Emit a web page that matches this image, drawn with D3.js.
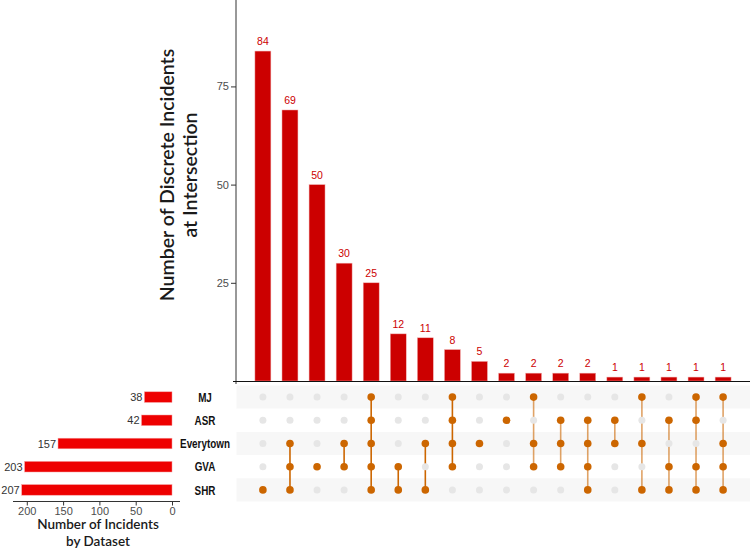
<!DOCTYPE html>
<html>
<head>
<meta charset="utf-8">
<script src="https://cdn.jsdelivr.net/npm/d3@7"></script>
<style>
  body { margin: 0; background: #fff; }
  svg { display: block; }
  .tick text { fill: #4d4d4d; font-family: "Liberation Sans", Arial, sans-serif; font-size: 11px; }
  .title { font-family: Lato, "Open Sans", sans-serif; font-weight: 600; fill: #1a1a1a; }
  .setname { font-family: "Liberation Sans", Arial, sans-serif; font-weight: bold; font-size: 13px; fill: #111; }
</style>
</head>
<body>
<div id="chart-area"></div>
<script>
// set names, top to bottom in the matrix
var sets = ["MJ", "ASR", "Everytown", "GVA", "SHR"];
var setSizes = [38, 42, 157, 203, 207];

// intersection sizes, sorted by frequency
var interSizes = [84, 69, 50, 30, 25, 12, 11, 8, 5, 2, 2, 2, 2, 1, 1, 1, 1, 1];

// which sets are in each intersection
var interMembers = [
    ["SHR"],
    ["Everytown", "GVA", "SHR"],
    ["GVA"],
    ["Everytown", "GVA"],
    ["MJ", "ASR", "Everytown", "GVA", "SHR"],
    ["GVA", "SHR"],
    ["Everytown", "SHR"],
    ["MJ", "ASR", "Everytown", "GVA"],
    ["Everytown"],
    ["ASR"],
    ["MJ", "Everytown", "GVA"],
    ["ASR", "Everytown", "GVA"],
    ["ASR", "Everytown", "GVA", "SHR"],
    ["ASR", "Everytown"],
    ["MJ", "Everytown", "SHR"],
    ["ASR", "GVA", "SHR"],
    ["MJ", "ASR", "GVA", "SHR"],
    ["MJ", "Everytown", "GVA", "SHR"]
];

var mainTicks = [25, 50, 75];
var setTicks = [0, 50, 100, 150, 200];

var width = 750, height = 549;

var svg = d3.select("#chart-area")
    .append("svg")
    .attr("width", width)
    .attr("height", height);

var barRed = "#cc0000",
    dotOn = "#cc6600",
    dotOff = "#e6e6e6";

// shared x for intersections
var x = d3.scaleBand()
    .domain(d3.range(interSizes.length))
    .range([249.5, 736.5])
    .paddingInner(0.41)
    .paddingOuter(0.2);

// top bar chart
var y = d3.scaleLinear()
    .domain([0, 97])
    .range([381, 0]);

svg.selectAll(".ibar")
    .data(interSizes)
    .enter().append("rect")
    .attr("class", "ibar")
    .attr("x", function(d, i) { return x(i); })
    .attr("y", function(d) { return y(d); })
    .attr("width", x.bandwidth())
    .attr("height", function(d) { return y(0) - y(d); })
    .attr("fill", barRed)
    .attr("stroke", "#f2b3b3")
    .attr("stroke-width", 0.5);

svg.selectAll(".ilabel")
    .data(interSizes)
    .enter().append("text")
    .attr("class", "ilabel")
    .attr("x", function(d, i) { return x(i) + x.bandwidth() / 2; })
    .attr("y", function(d) { return y(d) - 6; })
    .attr("text-anchor", "middle")
    .attr("fill", barRed)
    .style("font-family", "Liberation Sans, Arial, sans-serif")
    .style("font-size", "10.5px")
    .text(function(d) { return d; });

var yAxis = svg.append("g")
    .attr("transform", "translate(236,0)")
    .call(d3.axisLeft(y).tickValues(mainTicks).tickSize(5).tickPadding(2));
yAxis.select(".domain").remove();
yAxis.selectAll(".tick line").attr("stroke", "#333");

svg.append("line")
    .attr("x1", 236).attr("x2", 236)
    .attr("y1", 0).attr("y2", y(0) + 3)
    .attr("stroke", "#333").attr("stroke-width", 1);

svg.append("line")
    .attr("x1", 233).attr("x2", width)
    .attr("y1", y(0) + 0.5).attr("y2", y(0) + 0.5)
    .attr("stroke", "#111").attr("stroke-width", 1.1);

var yTitle = svg.append("text")
    .attr("class", "title")
    .attr("transform", "translate(174,175) rotate(-90)")
    .attr("text-anchor", "middle")
    .style("font-size", "19.5px");
yTitle.append("tspan").attr("x", 0).attr("dy", 0).text("Number of Discrete Incidents");
yTitle.append("tspan").attr("x", 0).attr("dy", 23).text("at Intersection");

// matrix rows
var row = d3.scaleBand()
    .domain(sets)
    .range([385.5, 501.5]);

svg.selectAll(".stripe")
    .data(sets)
    .enter().append("rect")
    .attr("class", "stripe")
    .attr("x", 236.5)
    .attr("y", function(d) { return row(d); })
    .attr("width", width - 236.5)
    .attr("height", row.bandwidth())
    .attr("fill", function(d, i) { return i % 2 === 0 ? "#f7f7f7" : "#ffffff"; });

var cy = function(s) { return row(s) + row.bandwidth() / 2; };

// connecting lines
interMembers.forEach(function(m, i) {
    if (m.length < 2) return;
    var ys = m.map(cy);
    svg.append("line")
        .attr("x1", x(i) + x.bandwidth() / 2)
        .attr("x2", x(i) + x.bandwidth() / 2)
        .attr("y1", d3.min(ys))
        .attr("y2", d3.max(ys))
        .attr("stroke", dotOn)
        .attr("stroke-width", 1.6)
        .attr("stroke-opacity", i < 10 ? 1 : 0.6);
});

// dots
var cells = [];
interMembers.forEach(function(m, i) {
    sets.forEach(function(s) {
        cells.push({ i: i, s: s, on: m.indexOf(s) >= 0 });
    });
});

svg.selectAll(".dot")
    .data(cells)
    .enter().append("circle")
    .attr("class", "dot")
    .attr("cx", function(d) { return x(d.i) + x.bandwidth() / 2; })
    .attr("cy", function(d) { return cy(d.s); })
    .attr("r", function(d) { return d.on ? 3.8 : 3.5; })
    .attr("fill", function(d) { return d.on ? dotOn : dotOff; });

// set size bars on the left
var sx = d3.scaleLinear()
    .domain([-11, 219])
    .range([180, 13]);

svg.selectAll(".sbar")
    .data(setSizes)
    .enter().append("rect")
    .attr("class", "sbar")
    .attr("x", function(d) { return sx(d); })
    .attr("y", function(d, i) { return cy(sets[i]) - 5.3; })
    .attr("width", function(d) { return sx(0) - sx(d); })
    .attr("height", 10.6)
    .attr("fill", "#ee0000")
    .attr("stroke", "#f5a0a0")
    .attr("stroke-width", 0.5);

svg.selectAll(".slabel")
    .data(setSizes)
    .enter().append("text")
    .attr("class", "slabel")
    .attr("x", function(d) { return sx(d) - 2; })
    .attr("y", function(d, i) { return cy(sets[i]) + 4; })
    .attr("text-anchor", "end")
    .attr("fill", "#333")
    .style("font-family", "Liberation Sans, Arial, sans-serif")
    .style("font-size", "11px")
    .text(function(d) { return d; });

// narrow bold set names, squeezed horizontally
svg.selectAll(".setname")
    .data(sets)
    .enter().append("text")
    .attr("class", "setname")
    .attr("transform", function(d) { return "translate(205," + (cy(d) + 4.7) + ") scale(0.76,1)"; })
    .attr("text-anchor", "middle")
    .text(function(d) { return d; });

var sAxis = svg.append("g")
    .attr("transform", "translate(0,501.5)")
    .call(d3.axisBottom(sx).tickValues(setTicks).tickSize(4).tickPadding(2));
sAxis.select(".domain").attr("d", "M13,0H180").attr("stroke", "#333");
sAxis.selectAll(".tick line").attr("stroke", "#333");

var sTitle = svg.append("text")
    .attr("class", "title")
    .attr("text-anchor", "middle")
    .style("font-size", "13.5px");
sTitle.append("tspan").attr("x", 98).attr("y", 529).text("Number of Incidents");
sTitle.append("tspan").attr("x", 98).attr("y", 545.5).text("by Dataset");
</script>
</body>
</html>
